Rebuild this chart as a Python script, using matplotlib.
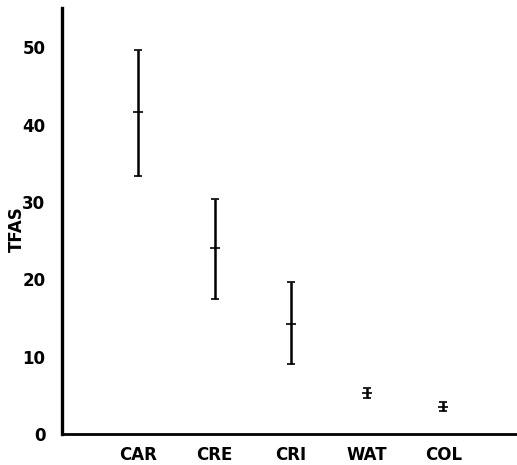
import matplotlib
matplotlib.use("Agg")
import matplotlib.pyplot as plt
import numpy as np

categories = ["CAR", "CRE", "CRI", "WAT", "COL"]
centers = [41.6, 24.0, 14.2, 5.3, 3.5]
lows = [33.4, 17.4, 9.0, 4.6, 2.9]
highs = [49.7, 30.4, 19.6, 5.9, 4.1]
yticks = [0, 10, 20, 30, 40, 50]

fig = plt.figure(figsize=(5.17, 4.65), dpi=100)
ax = fig.add_axes([0.12, 0.067, 0.885, 0.916])

x = np.arange(1, len(categories) + 1)
c = np.array(centers)
yerr = np.vstack([c - np.array(lows), np.array(highs) - c])
ax.errorbar(x, c, yerr=yerr, fmt='_', color='black', ecolor='black',
            elinewidth=1.8, capsize=3.2, capthick=1.8, markersize=7, markeredgewidth=1.2)

ax.set_xlim(0, 6)
ax.set_ylim(0, 55.1)
ax.set_xticks(x)
ax.set_xticklabels(categories)
ax.set_yticks(yticks)
ax.tick_params(axis='both', length=0, labelsize=12)
ax.tick_params(axis='y', pad=12)
ax.tick_params(axis='x', pad=9)
for lab in ax.get_xticklabels() + ax.get_yticklabels():
    lab.set_fontweight('bold')

ax.spines['top'].set_visible(False)
ax.spines['right'].set_visible(False)
ax.spines['left'].set_linewidth(2.4)
ax.spines['bottom'].set_linewidth(2.0)

ax.set_ylabel("TFAS", fontsize=12, fontweight='bold')
ax.yaxis.set_label_coords(-0.08, 0.48)

fig.savefig("out.png", dpi=100)
